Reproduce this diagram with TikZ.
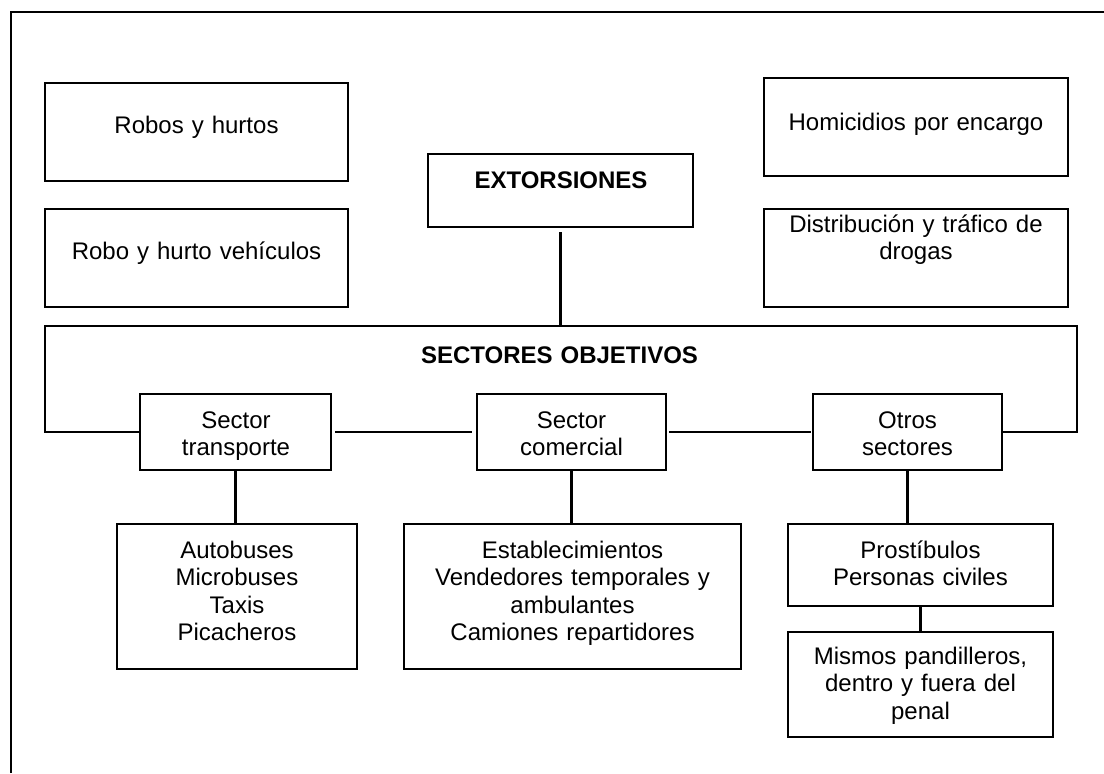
\documentclass[tikz,border=0pt]{standalone}
\usepackage{fontspec}
\setmainfont{Liberation Sans}
\begin{document}
\begin{tikzpicture}[x=0.5pt,y=-0.5pt,
  box/.style={draw, line width=1.1pt, rectangle, inner sep=0pt},
  txt/.style={inner sep=0pt, anchor=base, align=center, text width=150pt, font=\fontsize{12}{13.8}\selectfont},
  conn/.style={line width=1.1pt}]
\useasboundingbox (0,0) rectangle (1104,773);
% outer frame (cut by the page edge)
\coordinate (oBL) at (11,773);
\coordinate (oTL) at (11,12);
\coordinate (oTR) at (1104,12);
\draw[conn] (oBL) -- (oTL) -- (oTR);

% top boxes
\node[box, minimum width=151.5pt, minimum height=49pt] (robos) at (196.5,132) {};
\node[txt] (robosT) at (196.5,133) {Robos y hurtos};
\node[box, minimum width=151.5pt, minimum height=49pt] (robov) at (196.5,258) {};
\node[txt] (robovT) at (196.5,259) {Robo y hurto vehículos};
\node[box, minimum width=132.5pt, minimum height=36.5pt] (extor) at (560.5,190.5) {};
\node[txt, font=\fontsize{12}{13.8}\selectfont\bfseries] (extorT) at (561,188) {EXTORSIONES};
\node[box, minimum width=152pt, minimum height=49pt] (homic) at (916,127) {};
\node[txt] (homicT) at (916,130) {Homicidios por encargo};
\node[box, minimum width=152pt, minimum height=49pt] (distr) at (916,258) {};
\node[txt] (distrT) at (916,232) {Distribución y tráfico de\\drogas};

% sectores
\node[txt, font=\fontsize{12}{13.8}\selectfont\bfseries] (sectT) at (559.5,363) {SECTORES OBJETIVOS};
\node[box, minimum width=95.5pt, minimum height=38pt] (transp) at (235.5,432) {};
\node[txt] (transpT) at (236,428) {Sector\\transporte};
\node[box, minimum width=94.5pt, minimum height=38pt] (comer) at (571.5,432) {};
\node[txt] (comerT) at (571.5,428) {Sector\\comercial};
\node[box, minimum width=94.5pt, minimum height=38pt] (otros) at (907.5,432) {};
\node[txt] (otrosT) at (907.5,428) {Otros\\sectores};

% bottom boxes
\node[box, minimum width=120pt, minimum height=72.5pt] (autob) at (237,596.5) {};
\node[txt] (autobT) at (237,558) {Autobuses\\Microbuses\\Taxis\\Picacheros};
\node[box, minimum width=168.5pt, minimum height=72.5pt] (estab) at (572.5,596.5) {};
\node[txt] (estabT) at (572.5,558) {Establecimientos\\Vendedores temporales y\\ambulantes\\Camiones repartidores};
\node[box, minimum width=132.5pt, minimum height=41pt] (prost) at (920.5,565) {};
\node[txt] (prostT) at (920.5,558) {Prostíbulos\\Personas civiles};
\node[box, minimum width=132.5pt, minimum height=52.5pt] (mismos) at (920.5,684.5) {};
\node[txt] (mismosT) at (920.5,664) {Mismos pandilleros,\\dentro y fuera del\\penal};

% connectors
\coordinate (fTL) at (45,326);
\coordinate (fTR) at (1077,326);
\draw[conn] (transp.west) -| (fTL) -- (fTR) |- (otros.east);
\draw[conn, shorten <=2pt] (extor.south) -- (extor.south |- fTL);
\draw[conn, shorten <=1.5pt, shorten >=2pt] (transp) -- (comer);
\draw[conn, shorten <=1pt, shorten >=0.5pt] (comer) -- (otros);
\draw[conn] (transp.south) -- (transp.south |- autob.north);
\draw[conn] (comer.south) -- (comer.south |- estab.north);
\draw[conn] (otros.south) -- (otros.south |- prost.north);
\draw[conn] (prost.south) -- (mismos.north);
\end{tikzpicture}
\end{document}
